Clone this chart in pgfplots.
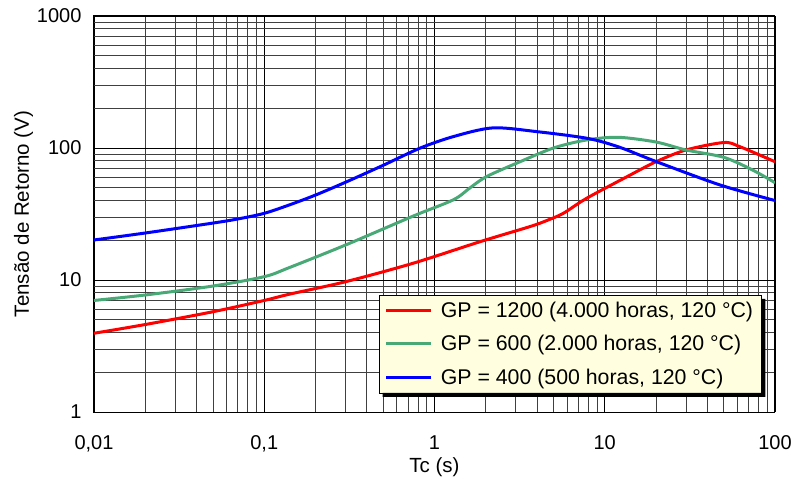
\documentclass[border=0pt]{standalone}
\usepackage{pgfplots}
\pgfplotsset{compat=1.18}
\usepackage{fontspec}
\setmainfont{Liberation Sans}
\definecolor{cgreen}{RGB}{72,168,118}
\definecolor{legfill}{RGB}{255,255,224}
\begin{document}
\begin{tikzpicture}[x=1pt,y=1pt]
\begin{axis}[
  at={(94pt,67pt)}, anchor=south west,
  scale only axis, width=681pt, height=396pt,
  xmode=log, ymode=log,
  xmin=0.01, xmax=100, ymin=1, ymax=1000,
  xtick={0.01,0.1,1,10,100},
  xticklabels={{0,01},{0,1},1,10,100},
  ytick={1,10,100,1000},
  yticklabels={1,10,100,1000},
  major tick length=0pt, minor tick length=0pt,
  grid=both,
  major grid style={black, line width=0.9pt},
  minor grid style={black!75, line width=0.8pt},
  axis line style={black, line width=1pt},
  tick label style={font=\fontsize{20}{24}\selectfont},
  yticklabel style={xshift=-9pt},
  xticklabel style={yshift=-20pt},
  xlabel={Tc (s)},
  ylabel={Tensão de Retorno (V)},
  every axis x label/.style={at={(axis description cs:0.5,-0.139)}, anchor=center, font=\fontsize{20.5}{24}\selectfont},
  every axis y label/.style={at={(axis description cs:-0.1035,0.5)}, rotate=90, anchor=center, font=\fontsize{20.5}{24}\selectfont},
  legend style={name=leg, at={(0.418,0.048)}, anchor=south west, fill=legfill, draw=black,
    font=\fontsize{21.3}{25}\selectfont, inner xsep=6pt, inner ysep=5pt,
    row sep=12.5pt, column sep=6pt},
  legend cell align=left,
  legend image code/.code={\draw[#1, line width=3pt] (0pt,0pt) -- (45pt,0pt);},
]
\addplot[red, line width=3pt, smooth] coordinates {
(0.01,3.95) (0.02,4.6) (0.05,5.75) (0.1,7.0) (0.14,7.8) (0.3,9.7) (0.75,13.4)
(1.85,19.5) (3.64,25.4) (4.56,28.2) (5.71,32) (7.83,41.6) (14.1,62.4) (20,78.7) (30,96.6)
(50,110) (62,102.5) (100,78.7)};
\addlegendentry{GP = 1200 (4.000 horas, 120 °C)}
\addplot[cgreen, line width=3pt, smooth] coordinates {
(0.01,7.0) (0.02,7.7) (0.05,9.0) (0.1,10.6) (0.14,12.4) (0.3,18.4) (0.75,30.5)
(1.29,40.5) (1.62,50) (2.02,60.7) (3.18,78.7) (5,100) (7.8,115) (12,120.5) (20,111) (30,96.6)
(50,85) (74,68) (100,54.6)};
\addlegendentry{GP = 600 (2.000 horas, 120 °C)}
\addplot[blue, line width=3pt, smooth] coordinates {
(0.01,20.1) (0.02,22.7) (0.05,27) (0.07,29) (0.1,32) (0.14,37) (0.2,44) (0.3,55)
(0.5,74) (0.82,99.6) (1.29,122) (2.2,142) (4,133) (8,118) (12.3,101)
(20,79) (47.5,52.5) (100,40)};
\addlegendentry{GP = 400 (500 horas, 120 °C)}
\end{axis}
\fill[black] ([xshift=4pt]leg.south west) -- ([xshift=4pt,yshift=-4pt]leg.south west)
  -- ([xshift=4pt,yshift=-4pt]leg.south east) -- ([xshift=4pt,yshift=-4pt]leg.north east)
  -- ([yshift=-4pt]leg.north east) -- (leg.south east) -- cycle;
\pgfresetboundingbox
\path[use as bounding box] (0pt,0pt) rectangle (797pt,479pt);
\end{tikzpicture}
\end{document}
